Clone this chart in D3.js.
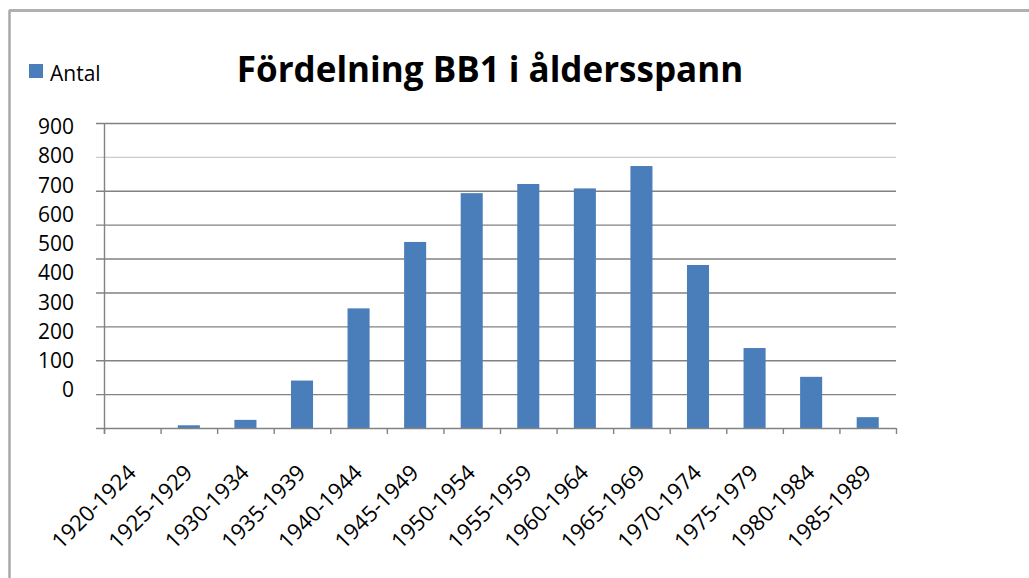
<!DOCTYPE html>
<html lang="sv">
<head>
  <meta charset="UTF-8">
  <title>Fördelning BB1 i åldersspann</title>
  <script src="https://d3js.org/d3.v7.min.js"></script>
  <style>
    html, body { margin: 0; background: #fff; overflow: hidden; }
    svg { display: block; }
    text { font-family: "Open Sans", sans-serif; fill: #000; }
  </style>
</head>
<body>
  <svg id="chart"></svg>

  <script>
    // Data
    const categories = ["1920-1924", "1925-1929", "1930-1934", "1935-1939", "1940-1944",
      "1945-1949", "1950-1954", "1955-1959", "1960-1964", "1965-1969",
      "1970-1974", "1975-1979", "1980-1984", "1985-1989"];
    const antal = [0, 8, 24, 140, 353, 549, 693, 720, 707, 773, 481, 236, 151, 32];
    const gridValues = [0, 100, 200, 300, 400, 500, 600, 700, 800, 900];
    const labelValues = [0, 100, 200, 300, 400, 500, 600, 700, 800, 900];

    const width = 1029, height = 578;
    const plot = { left: 104, right: 896, top: 123, bottom: 428 };
    const barColor = "#4a7ebb";

    const svg = d3.select("#chart").attr("width", width).attr("height", height);

    // outer frame (left and top edges visible)
    svg.append("line").attr("x1", 9.5).attr("x2", 9.5).attr("y1", 10).attr("y2", height)
      .attr("stroke", "#a8a8a8").attr("stroke-width", 2.5);
    svg.append("line").attr("x1", 9).attr("x2", width).attr("y1", 10.5).attr("y2", 10.5)
      .attr("stroke", "#b0b0b0").attr("stroke-width", 3);

    const x = d3.scaleBand()
      .domain(categories)
      .range([plot.left, plot.right])
      .paddingInner(0.61)
      .paddingOuter(0.305);

    const y = d3.scaleLinear().domain([0, 900]).range([plot.bottom, plot.top]);

    // the tick labels in the original sit on their own, tighter spacing
    const yLabel = d3.scaleLinear().domain([0, 900]).range([390, 127]);

    // gridlines
    svg.append("g").selectAll("line")
      .data(gridValues.filter(v => v > 0))
      .enter()
      .append("line")
      .attr("x1", plot.left - 8)
      .attr("x2", plot.right)
      .attr("y1", d => y(d) + 0.5)
      .attr("y2", d => y(d) + 0.5)
      .attr("stroke", d => d === 800 ? "#cccccc" : "#828282")
      .attr("stroke-width", 1.4);

    // y labels
    const yAxis = svg.append("g")
      .attr("transform", "translate(74,0)")
      .call(d3.axisLeft(yLabel).tickValues(labelValues).tickSize(0).tickPadding(0));
    yAxis.select(".domain").remove();
    yAxis.selectAll("text")
      .style("font-family", "'Open Sans', sans-serif")
      .style("font-size", "21px")
      .attr("fill", "#000");

    // bars
    svg.append("g").selectAll("rect")
      .data(antal)
      .enter()
      .append("rect")
      .attr("x", (d, i) => x(categories[i]))
      .attr("y", d => y(d))
      .attr("width", x.bandwidth())
      .attr("height", d => y(0) - y(d))
      .attr("fill", barColor);

    // axes lines
    svg.append("line").attr("x1", plot.left - 8).attr("x2", plot.right)
      .attr("y1", plot.bottom + 0.5).attr("y2", plot.bottom + 0.5)
      .attr("stroke", "#828282").attr("stroke-width", 1.4);
    svg.append("line").attr("x1", plot.left + 0.5).attr("x2", plot.left + 0.5)
      .attr("y1", plot.top).attr("y2", plot.bottom + 6)
      .attr("stroke", "#828282").attr("stroke-width", 1.4);

    // category boundary ticks
    const gap = (x.step() - x.bandwidth()) / 2;
    const bounds = categories.map(c => x(c) - gap).concat([plot.right]);
    svg.append("g").selectAll("line")
      .data(bounds)
      .enter()
      .append("line")
      .attr("x1", d => d + 0.5)
      .attr("x2", d => d + 0.5)
      .attr("y1", plot.bottom)
      .attr("y2", plot.bottom + 6)
      .attr("stroke", "#828282")
      .attr("stroke-width", 1.4);

    // x labels, rotated
    svg.append("g").selectAll("text")
      .data(categories)
      .enter()
      .append("text")
      .attr("transform", d => "translate(" + (x(d) + x.bandwidth() / 2 + 5) + "," + (plot.bottom + 46) + ") rotate(-45)")
      .attr("text-anchor", "end")
      .style("font-size", "22px")
      .text(d => d);

    // legend
    svg.append("rect").attr("x", 29).attr("y", 64).attr("width", 14).attr("height", 14)
      .attr("fill", barColor);
    svg.append("text").attr("x", 50).attr("y", 81)
      .style("font-size", "21px")
      .text("Antal");

    // title
    svg.append("text")
      .attr("x", 490)
      .attr("y", 82)
      .attr("text-anchor", "middle")
      .style("font-size", "35px")
      .style("font-weight", "700")
      .text("Fördelning BB1 i åldersspann");
  </script>
</body>
</html>
